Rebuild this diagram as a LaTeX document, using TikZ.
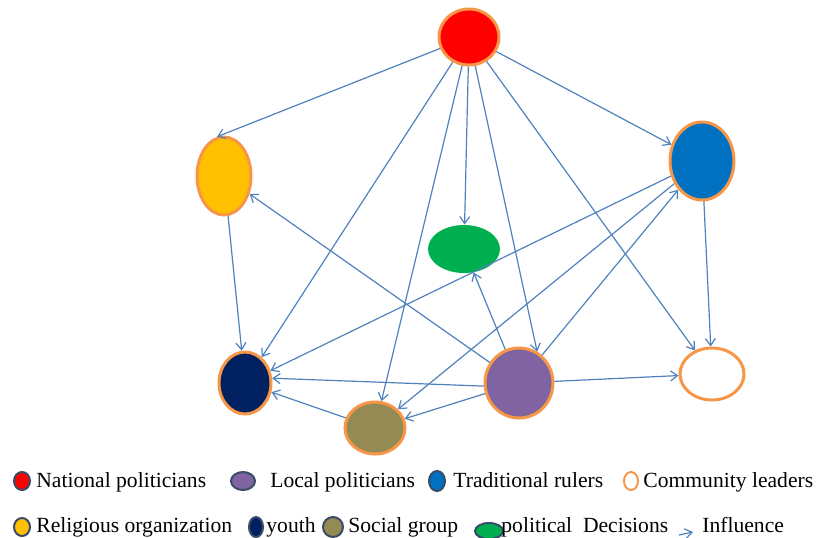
\documentclass[tikz,border=0pt]{standalone}
\usepackage{fontspec}
\setmainfont{Liberation Serif}
\usetikzlibrary{shapes.geometric,arrows.meta,positioning}
\definecolor{rimorange}{HTML}{F79646}
\definecolor{natred}{HTML}{FF0000}
\definecolor{religgold}{HTML}{FFC000}
\definecolor{tradblue}{HTML}{0070C0}
\definecolor{decgreen}{HTML}{00B050}
\definecolor{youthnavy}{HTML}{002060}
\definecolor{localpurple}{HTML}{8064A2}
\definecolor{socialolive}{HTML}{948A54}
\definecolor{linkblue}{HTML}{4F81BD}
\definecolor{keyrim}{HTML}{384B68}
\begin{document}
\begin{tikzpicture}[x=0.5pt,y=-0.5pt,
  actor/.style={ellipse, draw=rimorange, line width=1.5pt, inner sep=0pt},
  influence/.style={draw=linkblue, line width=0.6pt, -{Straight Barb[length=3.5pt,width=5pt]}},
  key/.style={ellipse, draw=keyrim, line width=1pt, inner sep=0pt},
  keytext/.style={anchor=base west, inner sep=0pt, font=\fontsize{10.8}{13}\selectfont}]
\useasboundingbox (0,0) rectangle (819,537);
\node[actor, fill=natred, minimum width=30pt, minimum height=28pt] (natl) at (469,37) {};
\node[actor, fill=religgold, minimum width=27pt, minimum height=39pt] (relig) at (224,176) {};
\node[actor, fill=tradblue, minimum width=32pt, minimum height=39pt] (trad) at (702,161) {};
\node[ellipse, fill=decgreen, inner sep=0pt, minimum width=36pt, minimum height=24pt] (dec) at (464,249) {};
\node[actor, fill=youthnavy, minimum width=26pt, minimum height=31pt] (youth) at (245,383) {};
\node[actor, fill=localpurple, minimum width=34pt, minimum height=35pt] (local) at (519,383) {};
\node[actor, fill=socialolive, minimum width=30pt, minimum height=26pt] (social) at (375,428) {};
\node[actor, fill=white, minimum width=32pt, minimum height=26pt] (comm) at (712,374) {};
\draw[influence] (natl) -- (relig.100);
\draw[influence] (natl) -- (youth);
\draw[influence] (natl) -- (social);
\draw[influence] (natl) -- (dec);
\draw[influence] (natl) -- (local.60);
\draw[influence] (natl) -- (comm);
\draw[influence] (natl) -- (trad);
\draw[influence] (relig) -- (youth);
\draw[influence] (local) -- (relig);
\draw[influence] (local) -- (dec);
\draw[influence] (local) -- (trad);
\draw[influence] (local.185) -- (youth.10);
\draw[influence] (local) -- (social);
\draw[influence] (local) -- (comm);
\draw[influence] (trad) -- (youth);
\draw[influence] (trad) -- (social);
\draw[influence] (trad) -- (comm);
\draw[influence] (social) -- (youth);
\node[key, fill=natred, minimum width=8pt, minimum height=9pt] (keyNatl) at (22,481) {};
\node[keytext] (txtNatl) at (36,487) {National politicians};
\node[key, fill=localpurple, minimum width=12pt, minimum height=9pt] (keyLocal) at (243,481) {};
\node[keytext] (txtLocal) at (270,487) {Local politicians};
\node[key, fill=tradblue, minimum width=8pt, minimum height=10pt] (keyTrad) at (437,481) {};
\node[keytext] (txtTrad) at (453,487) {Traditional rulers};
\node[ellipse, draw=rimorange, line width=1pt, fill=white, inner sep=0pt, minimum width=7pt, minimum height=9pt] (keyComm) at (631,481) {};
\node[keytext] (txtComm) at (643,487) {Community leaders};
\node[key, fill=religgold, minimum width=8pt, minimum height=9pt] (keyRelig) at (22,527) {};
\node[keytext] (txtRelig) at (36,532) {Religious organization};
\node[key, fill=youthnavy, minimum width=7pt, minimum height=10pt] (keyYouth) at (256,527) {};
\node[keytext] (txtYouth) at (266,532) {youth};
\node[key, fill=socialolive, minimum width=10pt, minimum height=10pt] (keySocial) at (333,527) {};
\node[keytext] (txtSocial) at (348,532) {Social group};
\node[key, fill=decgreen, minimum width=14pt, minimum height=8pt] (keyDec) at (489,531) {};
\node[keytext] (txtDec) at (501,532) {political~~Decisions};
\coordinate (inflA) at (679,535);
\coordinate (inflB) at (693,532);
\draw[influence] (inflA) -- (inflB);
\node[keytext] (txtInfl) at (702,532) {Influence};
\end{tikzpicture}
\end{document}
